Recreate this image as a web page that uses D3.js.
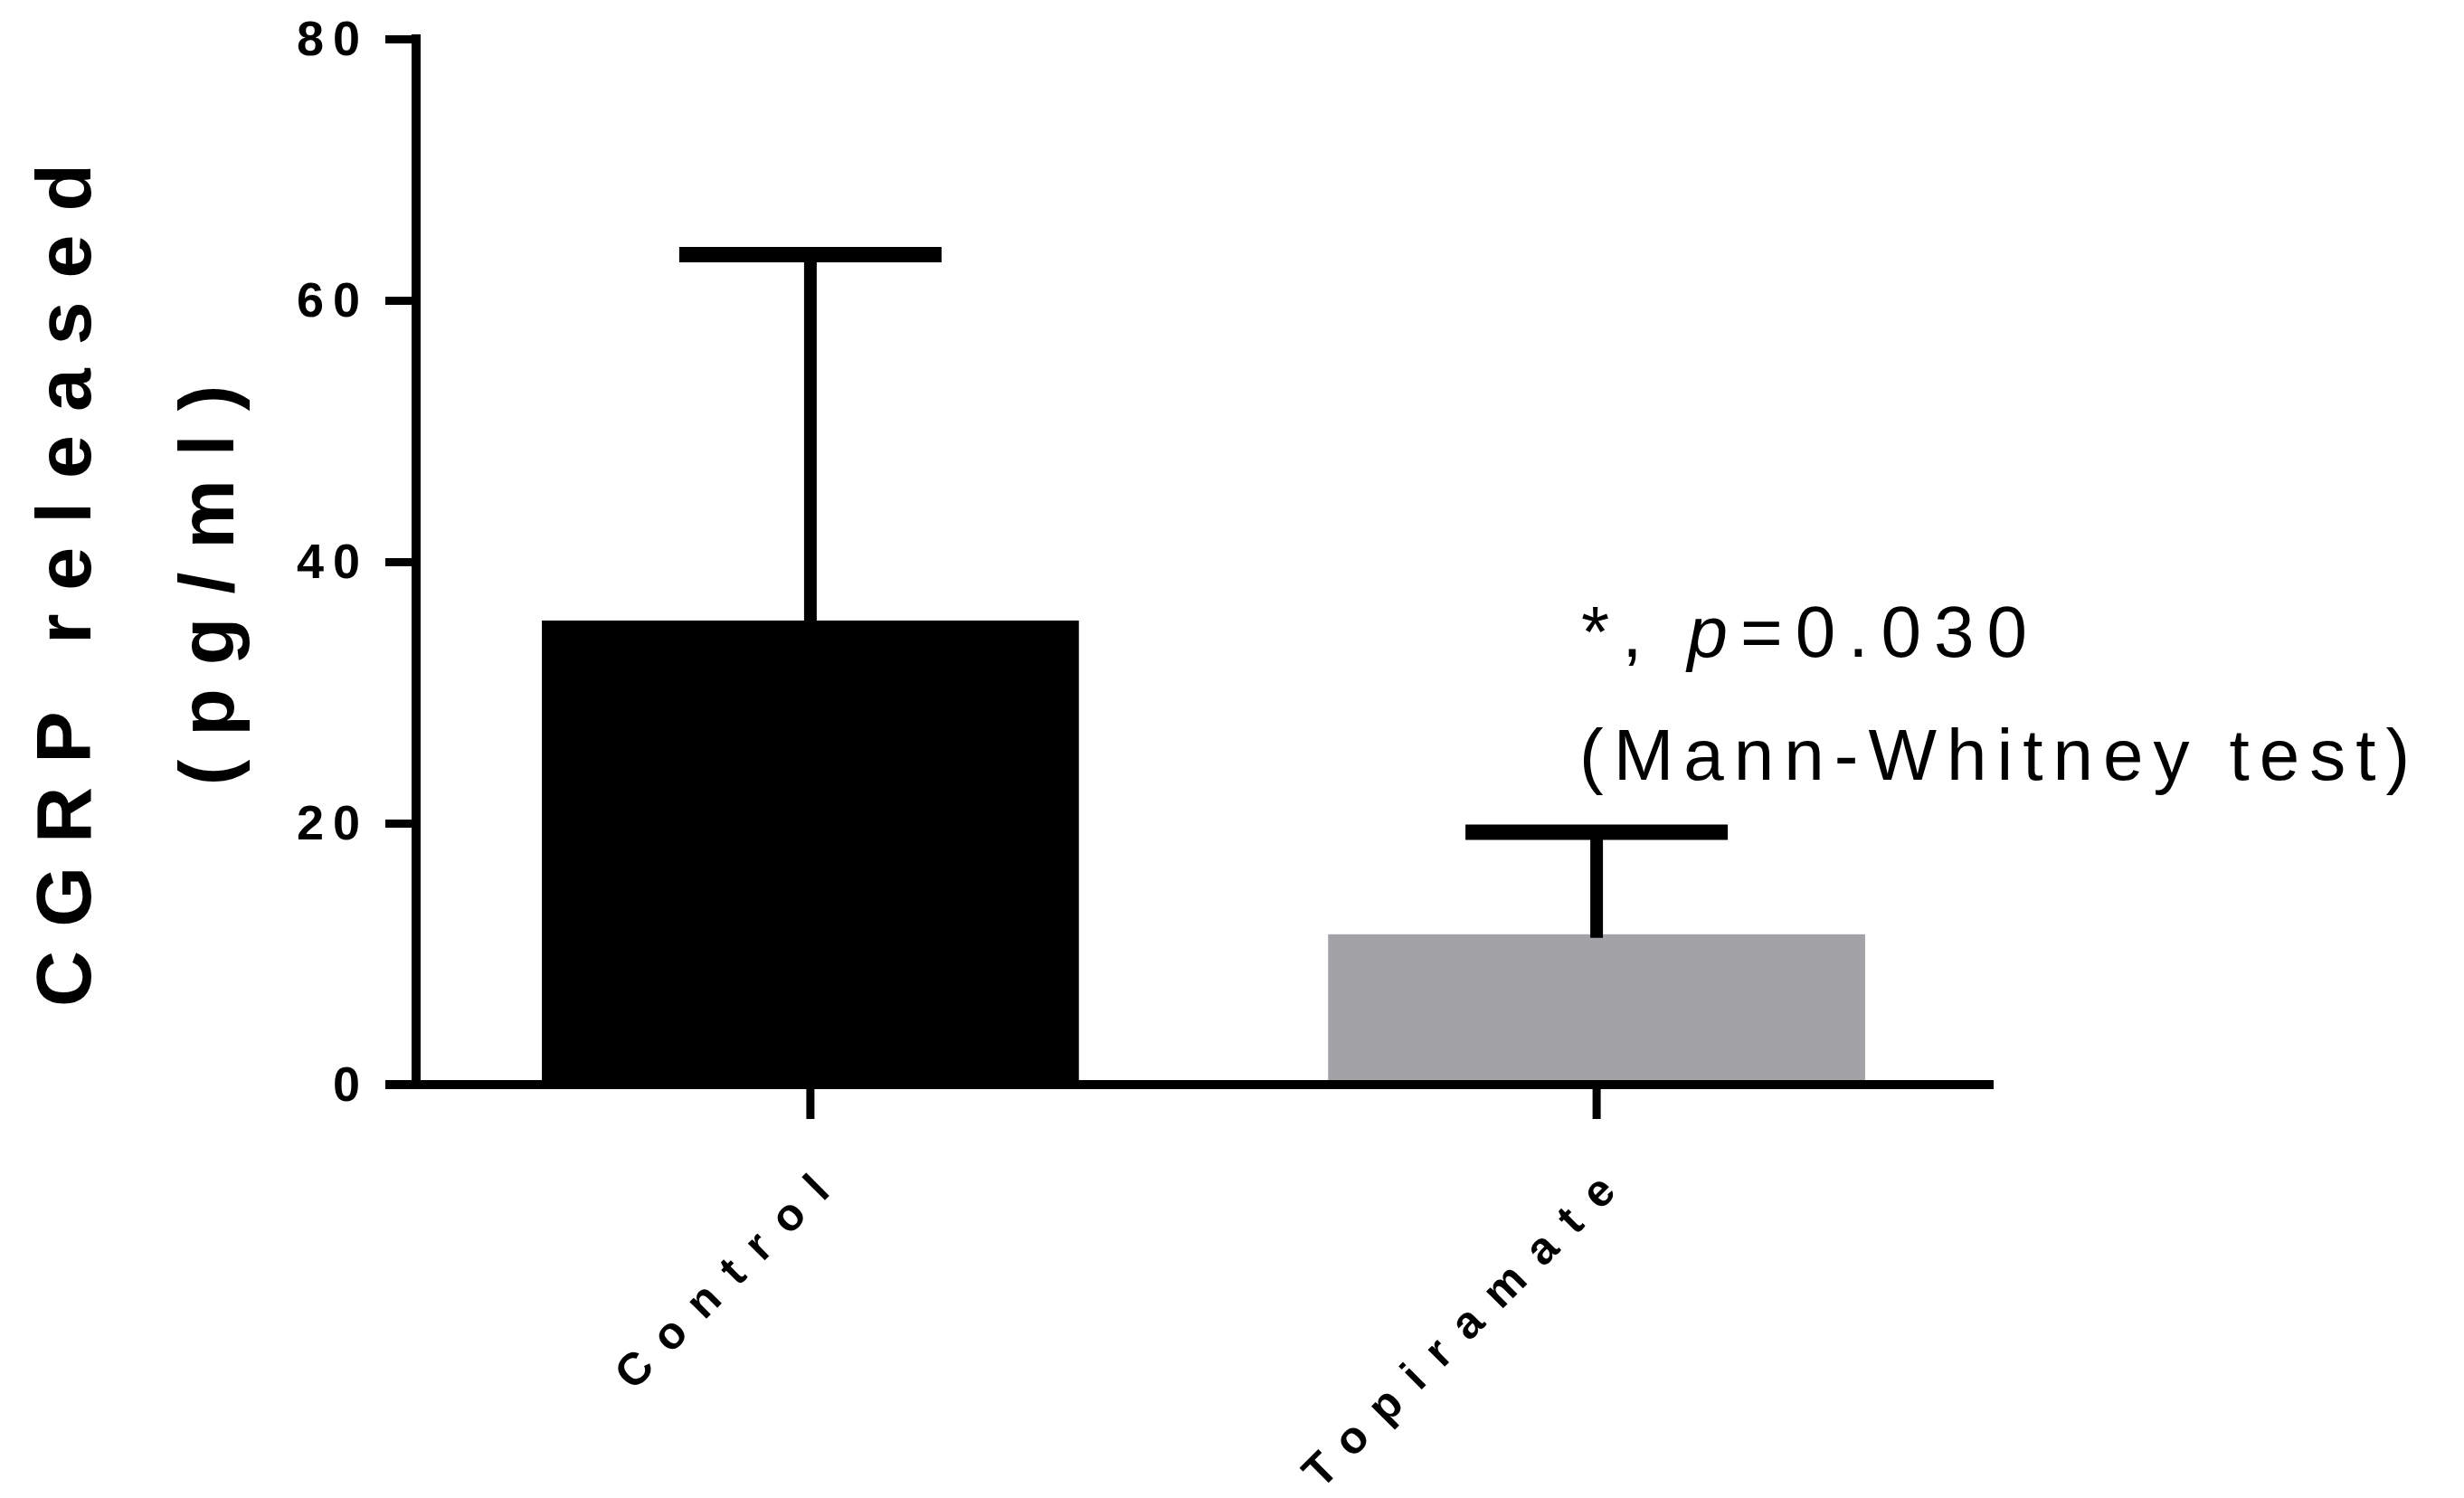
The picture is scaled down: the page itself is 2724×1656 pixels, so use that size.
<!DOCTYPE html>
<html>
<head>
<meta charset="utf-8">
<script src="https://cdn.jsdelivr.net/npm/d3@7"></script>
<style>
  body { margin: 0; background: #fff; }
  text { font-family: "Liberation Sans", Arial, sans-serif; }
</style>
</head>
<body>
<svg id="chart" width="2724" height="1656"></svg>
<script>
var groups = ["Control", "Topiramate"];
var means = [35.5, 11.5];
var errTops = [63.5, 19.3];
var colors = ["#000000", "#a3a3a7"];
var yTicks = [0, 20, 40, 60, 80];

var svg = d3.select("#chart");
var x = d3.scaleBand().domain(groups).range([460, 2201]).paddingInner(0.317).paddingOuter(0.16);
var y = d3.scaleLinear().domain([0, 80]).range([1199, 43]);

// bars
svg.selectAll("rect.bar").data(groups).enter().append("rect")
    .attr("x", function(d) { return x(d); })
    .attr("y", function(d, i) { return y(means[i]); })
    .attr("width", x.bandwidth())
    .attr("height", function(d, i) { return y(0) - y(means[i]); })
    .attr("fill", function(d, i) { return colors[i]; });

// error bars
groups.forEach(function(g, i) {
    var cx = x(g) + x.bandwidth() / 2;
    svg.append("line").attr("x1", cx).attr("x2", cx)
        .attr("y1", y(means[i]) + 4).attr("y2", y(errTops[i]))
        .attr("stroke", "#000").attr("stroke-width", 14);
    svg.append("line").attr("x1", cx - 145).attr("x2", cx + 145)
        .attr("y1", y(errTops[i])).attr("y2", y(errTops[i]))
        .attr("stroke", "#000").attr("stroke-width", 17);
});

// y axis
var yAxis = svg.append("g").attr("transform", "translate(460,0)")
    .call(d3.axisLeft(y).tickValues(yTicks).tickSize(34).tickPadding(18));
yAxis.select(".domain").remove();
yAxis.selectAll(".tick line").attr("stroke-width", 9);
yAxis.selectAll("text").attr("font-size", 54).attr("font-weight", "bold")
    .attr("letter-spacing", 10).attr("fill", "#000");
svg.append("line").attr("x1", 460).attr("x2", 460).attr("y1", 38).attr("y2", 1204)
    .attr("stroke", "#000").attr("stroke-width", 10);

// x axis
svg.append("line").attr("x1", 426).attr("x2", 2204).attr("y1", 1199).attr("y2", 1199)
    .attr("stroke", "#000").attr("stroke-width", 10);
var xAxis = svg.append("g").attr("transform", "translate(0,1199)")
    .call(d3.axisBottom(x).tickSize(38).tickPadding(0));
xAxis.select(".domain").remove();
xAxis.selectAll(".tick line").attr("stroke-width", 9);
xAxis.selectAll("text")
    .attr("font-size", 50).attr("font-weight", "bold").attr("letter-spacing", 22).attr("fill", "#000")
    .attr("text-anchor", "end").attr("dy", 0)
    .attr("transform", "translate(12,78) rotate(-45)");

// y title
svg.append("text").attr("transform", "translate(100,634) rotate(-90)")
    .attr("text-anchor", "middle").attr("font-size", 86).attr("font-weight", "bold")
    .attr("letter-spacing", 26).text("CGRP released");
svg.append("text").attr("transform", "translate(258,634) rotate(-90)")
    .attr("text-anchor", "middle").attr("font-size", 86).attr("font-weight", "bold")
    .attr("letter-spacing", 26).text("(pg/ml)");

// annotation
var ann = svg.append("text").attr("x", 1748).attr("y", 726)
    .attr("font-size", 80).attr("letter-spacing", 14);
ann.append("tspan").text("*, ");
ann.append("tspan").attr("font-style", "italic").text("p");
ann.append("tspan").text("=0.030");
svg.append("text").attr("x", 1746).attr("y", 862)
    .attr("font-size", 80).attr("letter-spacing", 11).text("(Mann-Whitney test)");
</script>
</body>
</html>
